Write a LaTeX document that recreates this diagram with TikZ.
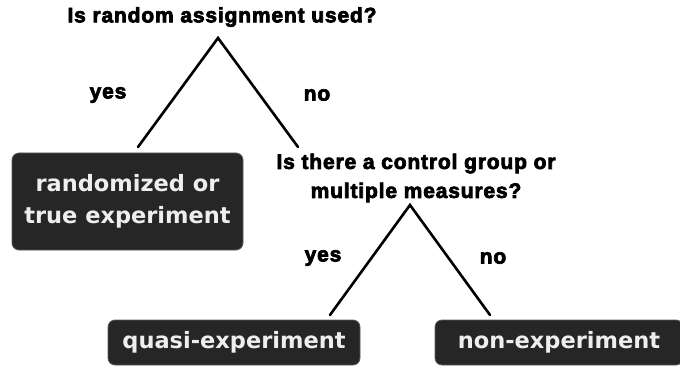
\documentclass[tikz,border=0pt]{standalone}
\usepackage{fontspec}
\setmainfont{DejaVu Sans}
\newfontfamily\qfont[LetterSpace=4,FakeBold=3.5]{Liberation Sans Bold}
\newfontfamily\bfont{DejaVu Sans Bold}
\definecolor{boxfill}{HTML}{262626}
\definecolor{boxedge}{HTML}{5A5A5A}
\definecolor{boxtext}{HTML}{EEEEEE}
\begin{document}
\begin{tikzpicture}[x=1pt,y=-1pt,
  question/.style={font=\qfont\fontsize{21}{29}\selectfont, align=center, inner sep=0pt, text=black},
  answer/.style={font=\qfont\fontsize{21}{24}\selectfont, inner sep=0pt, text=black},
  outcome/.style={draw=boxedge, line width=0.8pt, fill=boxfill, rounded corners=7pt,
    text=boxtext, font=\bfont\fontsize{22.5}{32}\selectfont, align=center, inner sep=0pt},
  branch/.style={line width=2.6pt, black, line cap=round}]
  \useasboundingbox (0,0) rectangle (680,366);
  \clip (0,0) rectangle (680,366);

  % first decision
  \node[question] (q1) at (222,17) {Is random assignment used?};
  \coordinate (q1top) at (218,38);
  \coordinate (q1yes) at (138,147);
  \coordinate (q1no) at (298,147);
  \draw[branch] (q1yes) -- (q1top) -- (q1no);
  \node[answer] (y1) at (108,95) {yes};
  \node[answer] (n1) at (317,95) {no};

  % randomized outcome
  \node[outcome, minimum width=231pt, minimum height=97pt] (rand) at (127.5,201.5)
    {randomized or\\true experiment};

  % second decision
  \node[question] (q2) at (416,178) {Is there a control group or\\multiple measures?};
  \coordinate (q2top) at (410,205);
  \coordinate (q2yes) at (330,315);
  \coordinate (q2no) at (490,315);
  \draw[branch] (q2yes) -- (q2top) -- (q2no);
  \node[answer] (y2) at (323,258) {yes};
  \node[answer] (n2) at (493,258) {no};

  % remaining outcomes
  \node[outcome, minimum width=252pt, minimum height=45pt] (quasi) at (234,342.5)
    {quasi-experiment};
  \node[outcome, minimum width=248pt, minimum height=45pt] (non) at (559,342.5)
    {non-experiment};
\end{tikzpicture}
\end{document}
